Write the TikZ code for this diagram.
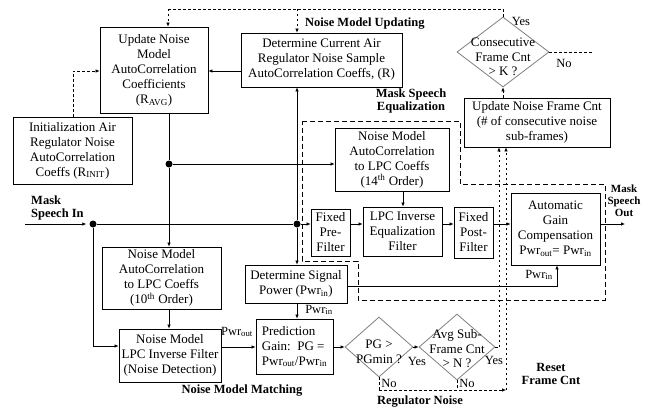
\documentclass[tikz,border=0pt]{standalone}
\usepackage{fontspec}
\setmainfont{Liberation Serif}
\usetikzlibrary{arrows.meta,shapes.geometric,calc}
\begin{document}
\begin{tikzpicture}[x=1pt,y=-1pt,
  box/.style={draw=black, line width=0.8pt, fill=white, align=center, inner sep=1pt, font=\fontsize{13}{15}\selectfont},
  dia/.style={draw=gray, line width=0.8pt, diamond, inner sep=0pt},
  diatext/.style={align=center, inner sep=0pt, font=\fontsize{13}{14.5}\selectfont},
  arr/.style={line width=0.7pt, -{Latex[length=4pt,width=3.5pt]}},
  ln/.style={line width=0.7pt},
  fb/.style={line width=0.6pt, dash pattern=on 2.5pt off 2.5pt},
  fbarr/.style={fb, -{Latex[length=4pt,width=3.5pt]}},
  region/.style={line width=0.8pt, dash pattern=on 5pt off 3pt},
  blabel/.style={font=\bfseries\fontsize{12.5}{13.5}\selectfont, inner sep=0pt, align=center},
  slabel/.style={font=\fontsize{12.5}{13}\selectfont, inner sep=0pt},
  dot/.style={circle, fill=black, inner sep=0pt, minimum size=7pt}
]
\useasboundingbox (0,0) rectangle (648,412);
\fill[white] (0,0) rectangle (648,412);

% dashed region
\draw[region] (302,121) -- (460,121) -- (460,184) -- (605,184) -- (605,300) -- (358,300) -- (358,261) -- (302,261) -- cycle;

% boxes
\node[box, minimum width=108, minimum height=86] (upd) at (154,70) {Update Noise\\Model\\AutoCorrelation\\Coefficients\\(R\textsubscript{AVG})};
\node[box, minimum width=161, minimum height=54] (cur) at (321.5,60) {Determine Current Air\\Regulator Noise Sample\\AutoCorrelation Coeffs, (R)};
\node[box, minimum width=119, minimum height=67] (init) at (72.5,150.5) {Initialization Air\\Regulator Noise\\AutoCorrelation\\Coeffs (R\textsubscript{INIT})};
\node[box, minimum width=114, minimum height=63] (m14) at (392,159.5) {Noise Model\\AutoCorrelation\\to LPC Coeffs\\(14\textsuperscript{th}\ Order)};
\node[box, minimum width=39, minimum height=47] (pre) at (330.5,232.5) {Fixed\\Pre-\\Filter};
\node[box, minimum width=79, minimum height=49] (lpcq) at (402.5,231.5) {LPC Inverse\\Equalization\\Filter};
\node[box, minimum width=39, minimum height=51] (post) at (473.5,232.5) {Fixed\\Post-\\Filter};
\node[box, minimum width=89, minimum height=72] (agc) at (555.5,229) {Automatic\\Gain\\Compensation\\Pwr\textsubscript{out}= Pwr\textsubscript{in}};
\node[box, minimum width=146, minimum height=49] (cnt) at (537,122.5) {Update Noise Frame Cnt\\(\# of consecutive noise\\sub-frames)};
\node[box, minimum width=102, minimum height=38] (sig) at (296,284) {Determine Signal\\Power (Pwr\textsubscript{in})};
\node[box, minimum width=119, minimum height=62] (m10) at (161.5,278) {Noise Model\\AutoCorrelation\\to LPC Coeffs\\(10\textsuperscript{th}\ Order)};
\node[box, minimum width=102, minimum height=53] (nlpc) at (170,355.5) {Noise Model\\LPC Inverse Filter\\(Noise Detection)};
\node[box, minimum width=77, minimum height=55, align=left] (pg) at (294.5,346.5) {Prediction\\Gain:\ \ PG =\\Pwr\textsubscript{out}/Pwr\textsubscript{in}};

% diamonds
\node[dia, minimum width=92, minimum height=70] (kd) at (503,52) {};
\node[diatext] (kdt) at (503,57) {Consecutive\\Frame Cnt\\> K ?};
\node[dia, minimum width=68, minimum height=60] (pgd) at (379,347) {};
\node[diatext] (pgdt) at (379,352) {PG >\\PGmin ?};
\node[dia, minimum width=76, minimum height=66] (avg) at (457,347) {};
\node[diatext] (avgt) at (457,349) {Avg Sub-\\Frame Cnt\\> N ?};

% coordinates
\coordinate (t1) at (168,9);
\coordinate (t2) at (297,9);
\coordinate (t3) at (503,9);
\coordinate (in0) at (25,224);
\coordinate (out) at (625,224);
\node[dot] (j0) at (93,224) {};
\node[dot] (j1) at (169,164) {};
\node[dot] (j2) at (297,224) {};
\coordinate (ya) at (499,347);
\coordinate (nb) at (506,390);
\coordinate (se) at (557,286);

% feedback (dashed)
\draw[fb] (kd.north) -- (t3) -- (t1);
\draw[fbarr] (t1) -- (upd.north -| t1);
\draw[fbarr] (t2) -- (cur.north -| t2);
\draw[fbarr] (init.north -| 73,0) -- (73,71) -- (upd.west |- 0,71);
\draw[fbarr] (cnt.north -| kd) -- (kd.south);
\draw[fb] (kd.east) -- (592,52);
\draw[fb] (avg.east) -- (ya);
\draw[fbarr] (ya) -- (cnt.south -| ya);
\draw[fb] (pgd.south) -- (pgd.south |- nb);
\draw[fb] (avg.south) -- (avg.south |- nb);
\draw[fbarr] (pgd.south |- nb) -- (nb);
\draw[fbarr] (nb) -- (cnt.south -| nb);

% solid connectors
\draw[arr] (cur.west |- 0,71) -- (upd.east |- 0,71);
\draw[ln] (upd.south -| j1) -- (j1);
\draw[arr] (j1) -- (m10.north -| j1);
\draw[arr] (j1) -- (m14.west |- j1);
\draw[arr, shorten >=3pt] (in0) -- (j0);
\draw[ln] (j0) -- (j2);
\draw[arr] (j0) -- (j0 |- 0,346) -- (nlpc.west |- 0,346);
\draw[arr] (j2) -- (pre.west |- j2);
\draw[arr] (j2) -- (cur.south -| j2);
\draw[arr] (j2) -- (sig.north -| j2);
\draw[arr] (m14.south -| 403,0) -- (lpcq.north -| 403,0);
\draw[arr] (pre.east |- j2) -- (lpcq.west |- j2);
\draw[arr] (lpcq.east |- j2) -- (post.west |- j2);
\draw[arr] (post.east |- j2) -- (agc.west |- j2);
\draw[arr] (agc.east |- j2) -- (out);
\draw[arr] (sig.east |- se) -- (se) -- (agc.south -| se);
\draw[arr] (m10.south -| j1) -- (nlpc.north -| j1);
\draw[arr] (nlpc.east |- 0,347) -- (pg.west |- 0,347);
\draw[arr] (sig.south -| j2) -- (pg.north -| j2);
\draw[arr] (pg.east |- pgd) -- (pgd.west);
\draw[arr] (pgd.east) -- (avg.west);

% labels
\node[blabel, anchor=west] (lupd) at (305,24) {Noise Model Updating};
\node[blabel] (lmse) at (411,101) {Mask Speech\\Equalization};
\node[blabel, anchor=west, align=left] (lin) at (31,208) {Mask\\Speech In};
\node[blabel, font=\bfseries\fontsize{11}{12}\selectfont] (lout) at (624,201) {Mask\\Speech\\Out};
\node[blabel] (lnmm) at (242,391) {Noise Model Matching};
\node[blabel] (lrn) at (420,402) {Regulator Noise};
\node[blabel] (lrst) at (551,374) {Reset\\Frame Cnt};
\node[slabel] (y1) at (521,21) {Yes};
\node[slabel] (n1) at (564,63) {No};
\node[slabel] (y2) at (417,361) {Yes};
\node[slabel] (n2) at (389,383) {No};
\node[slabel] (y3) at (494,360) {Yes};
\node[slabel] (n3) at (467,383) {No};
\node[slabel] (p1) at (237,332) {Pwr\textsubscript{out}};
\node[slabel] (p2) at (319,310) {Pwr\textsubscript{in}};
\node[slabel] (p3) at (539,275) {Pwr\textsubscript{in}};
\end{tikzpicture}
\end{document}
